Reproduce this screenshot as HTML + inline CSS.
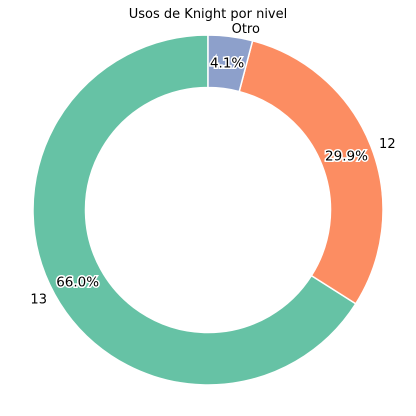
<!DOCTYPE html>
<html><head><meta charset="utf-8">
<style>
html,body{margin:0;padding:0;background:#fff;}
svg{display:block;font-family:"DejaVu Sans","Liberation Sans",sans-serif;}
</style></head>
<body>
<svg id="chart" width="416" height="416" viewBox="0 0 416 416">
<text x="208" y="18" text-anchor="middle" font-size="13" fill="#000">Usos de Knight por nivel</text>
<g id="slices"></g>
<g id="labels"></g>
</svg>
<script>
const categories = ["13", "12", "Otro"];
const values = [66.0, 29.9, 4.1];
const pctLabels = ["66.0%", "29.9%", "4.1%"];
const colors = ["#66c2a5", "#fc8d62", "#8da0cb"];

const cx = 208, cy = 210, R = 175, r = R * 0.7;
const NS = "http://www.w3.org/2000/svg";
const sg = document.getElementById("slices");
const lg = document.getElementById("labels");
const total = values.reduce((a, b) => a + b, 0);
function pt(deg, rad) { const a = deg * Math.PI / 180; return [cx + rad * Math.cos(a), cy - rad * Math.sin(a)]; }
let start = 90;
values.forEach((v, i) => {
  const sweep = v / total * 360;
  const end = start + sweep;
  const large = sweep > 180 ? 1 : 0;
  const [x1, y1] = pt(start, R), [x2, y2] = pt(end, R);
  const [x3, y3] = pt(end, r), [x4, y4] = pt(start, r);
  const p = document.createElementNS(NS, "path");
  p.setAttribute("d", `M${x1},${y1} A${R},${R} 0 ${large} 0 ${x2},${y2} L${x3},${y3} A${r},${r} 0 ${large} 1 ${x4},${y4} Z`);
  p.setAttribute("fill", colors[i]);
  p.setAttribute("stroke", "#fff");
  p.setAttribute("stroke-width", "1.5");
  
  
  sg.appendChild(p);
  const mid = start + sweep / 2;
  const [lx, ly] = pt(mid, R * 1.05);
  const t = document.createElementNS(NS, "text");
  t.setAttribute("x", lx); t.setAttribute("y", ly + 5);
  const c = Math.cos(mid * Math.PI / 180);
  t.setAttribute("text-anchor", c > 0.05 ? "start" : (c < -0.05 ? "end" : "middle"));
  t.setAttribute("font-size", "13");
  t.textContent = categories[i];
  
  
  lg.appendChild(t);
  const [px, py] = pt(mid, R * 0.85);
  const q = document.createElementNS(NS, "text");
  q.setAttribute("x", px); q.setAttribute("y", py + 5);
  q.setAttribute("text-anchor", "middle");
  q.setAttribute("font-size", "13.5");
  q.setAttribute("stroke", "#fff");
  q.setAttribute("stroke-width", "3");
  q.setAttribute("paint-order", "stroke");
  q.setAttribute("fill", "#000");
  q.textContent = pctLabels[i];
  
  
  lg.appendChild(q);
  start = end;
});
</script>
</body></html>
